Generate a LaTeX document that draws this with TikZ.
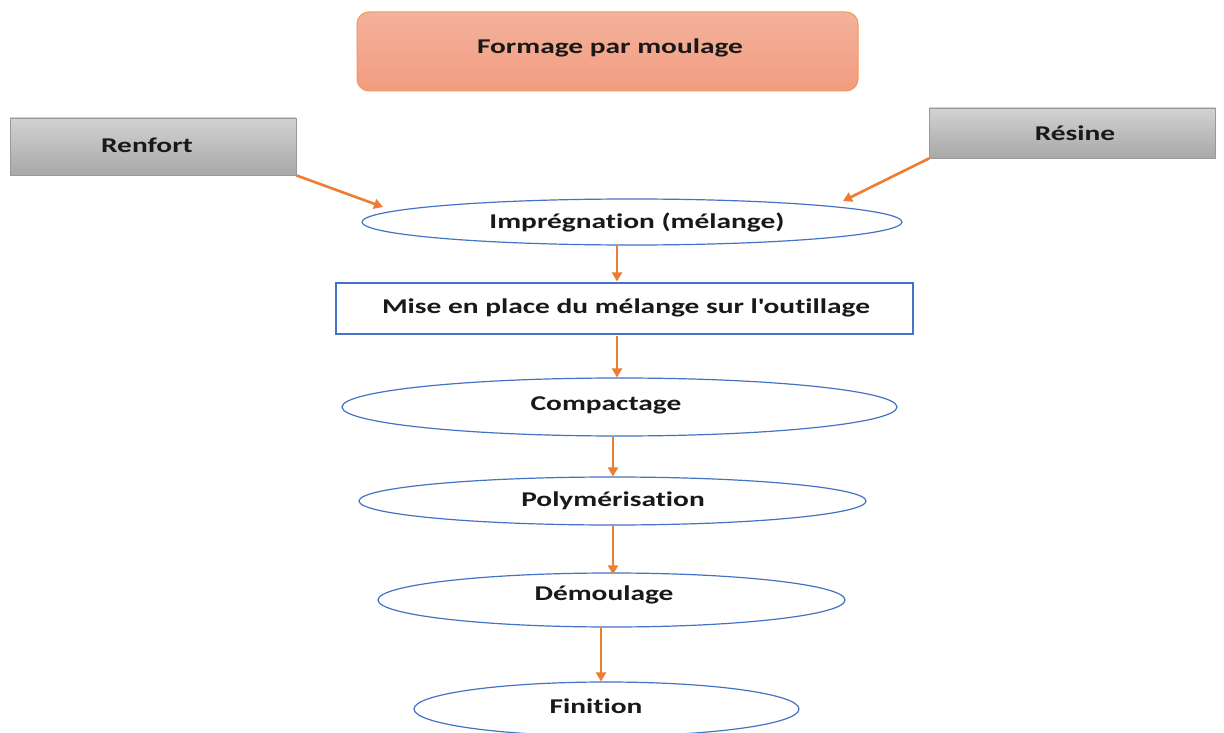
\documentclass[tikz,border=0pt]{standalone}
\usepackage{fontspec}
\setmainfont{Carlito}[FakeStretch=1.4, Ligatures={TeXOff,NoCommon}]
\usetikzlibrary{shapes.geometric,arrows.meta}
\definecolor{flowblue}{HTML}{4472C4}
\definecolor{floworange}{HTML}{ED7D31}
\definecolor{salmontop}{HTML}{F4B29C}
\definecolor{salmonbot}{HTML}{F29C80}
\definecolor{greytop}{HTML}{D2D2D2}
\definecolor{greybot}{HTML}{A8A8A8}
\begin{document}
\begin{tikzpicture}[x=1pt,y=-1pt,
  every node/.style={font=\fontsize{21}{25}\selectfont\bfseries, text=black!90, inner sep=0pt},
  titlebox/.style={draw=floworange!80, line width=1pt, rounded corners=12pt,
    top color=salmontop, bottom color=salmonbot, minimum width=501pt, minimum height=79pt},
  inputbox/.style={draw=black!40, line width=0.8pt, top color=greytop, bottom color=greybot,
    minimum width=286pt},
  stage/.style={ellipse, draw=flowblue, line width=1.2pt, fill=white},
  stagebox/.style={rectangle, draw=flowblue, line width=1.2pt, fill=white},
  flow/.style={draw=floworange, line width=2.6pt, -{Triangle[length=9pt,width=10pt]}}
]
\useasboundingbox (0,0) rectangle (1224,733);
\fill[white] (0,0) rectangle (1224,733);
\begin{scope}
\clip (0,0) rectangle (1224,733);

% header
\node[titlebox] (title) at (607.5,51.5) {};
\node at (610,48) {Formage par moulage};

% raw materials
\node[inputbox, minimum height=57pt] (ren) at (153,146.5) {};
\node at (147,145) {Renfort};
\node[inputbox, minimum height=50pt] (res) at (1072.5,133) {};
\node at (1075,133) {Résine};

% process stages
\node[stage, minimum width=540pt, minimum height=46pt] (imp) at (632,222) {};
\node at (637,222) {Imprégnation (mélange)};

\node[stagebox, minimum width=577pt, minimum height=51pt] (mise) at (624.5,308.5) {};
\node at (626,308) {Mise en place du mélange sur l'outillage};

\node[stage, minimum width=555pt, minimum height=58pt] (comp) at (619.5,407) {};
\node at (606,405) {Compactage};

\node[stage, minimum width=507pt, minimum height=48pt] (poly) at (612.5,501) {};
\node at (613,501) {Polymérisation};

\node[stage, minimum width=467pt, minimum height=54pt] (dem) at (611.5,600) {};
\node at (604,595) {Démoulage};

\node[stage, minimum width=385pt, minimum height=54pt] (fin) at (606.5,709) {};
\node at (596,706) {Finition};

% connectors
\coordinate (renIn) at (383,207);
\coordinate (resIn) at (843,201);
\draw[flow] (ren.south east) -- (renIn);
\draw[flow] (res.south west) -- (resIn);
\draw[flow] ([xshift=-15pt]imp.south) -- ([xshift=-7.5pt,yshift=1pt]mise.north);
\draw[flow] ([xshift=-7.5pt,yshift=-1pt]mise.south) -- ([xshift=-2.5pt]comp.north);
\draw[flow] ([xshift=-6.5pt]comp.south) -- ([xshift=0.5pt]poly.north);
\draw[flow] ([xshift=0.5pt]poly.south) -- ([xshift=1.5pt,yshift=-2pt]dem.north);
\draw[flow] ([xshift=-10.5pt]dem.south) -- ([xshift=-5.5pt]fin.north);
\end{scope}
\end{tikzpicture}
\end{document}
